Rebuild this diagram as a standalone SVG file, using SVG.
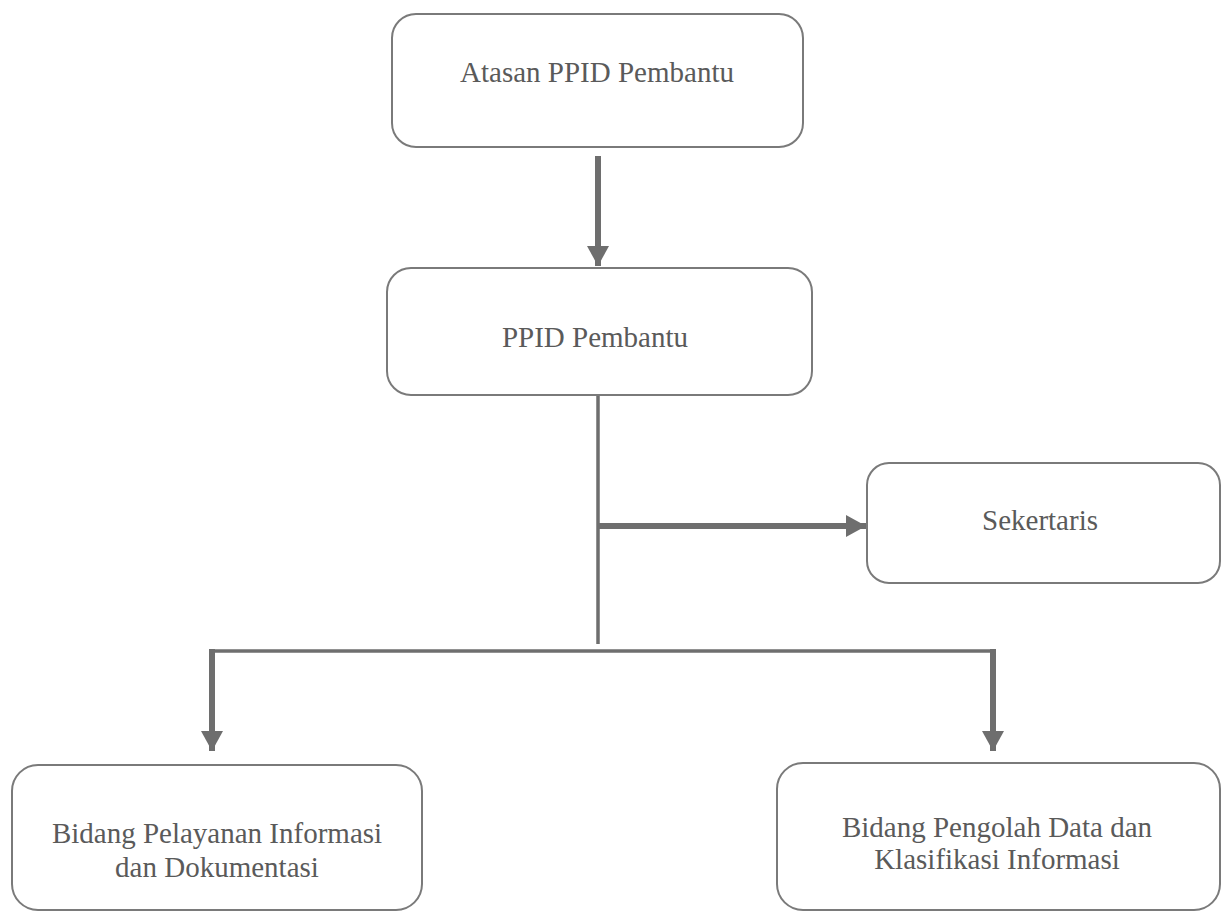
<svg xmlns="http://www.w3.org/2000/svg" width="1221" height="912" viewBox="0 0 1221 912">
<style>
.box{fill:#fff;stroke:#7a7a7a;stroke-width:2}
.lbl{font-family:"Liberation Serif","Times New Roman","DejaVu Serif",serif;font-size:29px;fill:#5a5a5a;text-anchor:middle}
.arr{fill:none;stroke:#6e6e6e;stroke-width:6}
.ln{fill:none;stroke:#6e6e6e;stroke-width:3.5}
</style>
<defs>
<marker id="ah" markerUnits="userSpaceOnUse" markerWidth="22" markerHeight="22" viewBox="0 0 20 22" refX="20" refY="11" orient="auto">
<path d="M0,0 L20,11 L0,22 Z" fill="#6e6e6e"/>
</marker>
</defs>
<rect width="1221" height="912" fill="#fff"/>
<g id="connectors">
<line class="arr" x1="598" y1="156" x2="598" y2="266" marker-end="url(#ah)"/>
<line class="ln" x1="598" y1="395" x2="598" y2="644"/>
<line class="arr" x1="598" y1="526" x2="866" y2="526" marker-end="url(#ah)"/>
<line class="ln" x1="210" y1="651" x2="995" y2="651"/>
<line class="arr" x1="212" y1="649" x2="212" y2="751" stroke-width="5" marker-end="url(#ah)"/>
<line class="arr" x1="993" y1="649" x2="993" y2="751" stroke-width="5" marker-end="url(#ah)"/>
</g>
<g id="atasan">
<rect class="box" x="392" y="14" width="411" height="133" rx="24"/>
<text class="lbl" x="597" y="82">Atasan PPID Pembantu</text>
</g>
<g id="ppid">
<rect class="box" x="387" y="268" width="425" height="127" rx="24"/>
<text class="lbl" x="595" y="347">PPID Pembantu</text>
</g>
<g id="sekertaris">
<rect class="box" x="867" y="463" width="353" height="120" rx="22"/>
<text class="lbl" x="1040" y="530">Sekertaris</text>
</g>
<g id="pelayanan">
<rect class="box" x="12" y="765" width="410" height="145" rx="26"/>
<text class="lbl" x="217" y="843">Bidang Pelayanan Informasi</text>
<text class="lbl" x="217" y="877">dan Dokumentasi</text>
</g>
<g id="pengolah">
<rect class="box" x="777" y="763" width="443" height="147" rx="26"/>
<text class="lbl" x="997" y="837">Bidang Pengolah Data dan</text>
<text class="lbl" x="997" y="869">Klasifikasi Informasi</text>
</g>
</svg>
